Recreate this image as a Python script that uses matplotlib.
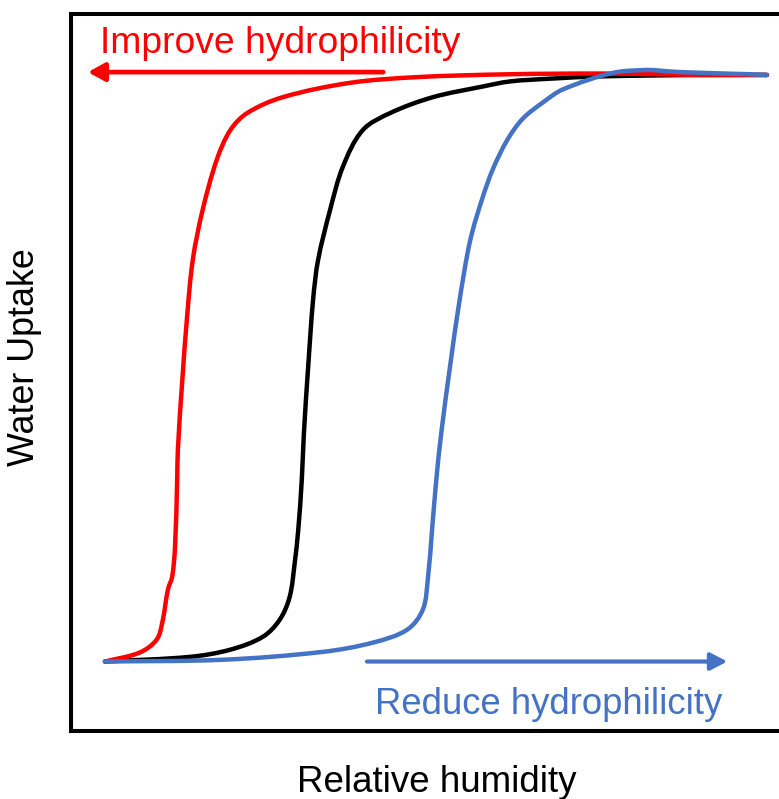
import matplotlib
matplotlib.use("Agg")
import matplotlib.pyplot as plt
from matplotlib.path import Path
from matplotlib.patches import PathPatch
import numpy as np

plt.rcParams['font.family'] = ['Liberation Sans', 'DejaVu Sans']

# Relative humidity (%) vs water uptake (% of axis height)
red_rh = [4.8, 9.7, 12.1, 12.9, 13.7, 14.3, 14.7, 15.0, 15.1, 15.7, 16.4, 17.2,
          18.6, 20.6, 22.5, 24.9, 29.9, 39.4, 48.9, 62.0, 74.7, 83.2, 88.8, 98.3]
red_up = [9.75, 11.0, 12.8, 15.2, 19.8, 21.6, 25.8, 35.1, 39.3, 48.6, 57.8, 65.7,
          72.7, 79.7, 83.8, 86.2, 88.4, 90.4, 91.2, 91.6, 91.7, 91.6, 91.5, 91.5]

black_rh = [4.8, 16.8, 22.5, 27.1, 29.5, 30.9, 31.6, 32.1, 32.6, 32.9, 33.5, 34.2,
            34.9, 36.6, 38.4, 41.2, 45.1, 51.1, 58.2, 62.0, 68.0, 74.7, 88.8, 98.3]
black_up = [9.75, 10.4, 11.4, 13.2, 15.6, 18.8, 23.5, 28.1, 35.1, 41.6, 50.8, 60.2,
            65.7, 72.7, 78.7, 83.8, 86.2, 88.4, 89.9, 90.6, 91.0, 91.3, 91.5, 91.5]

blue_rh = [4.8, 21.5, 35.6, 42.7, 47.5, 49.7, 50.4, 51.0, 51.6, 52.3, 53.6, 54.9,
           56.4, 58.1, 59.6, 61.6, 63.8, 66.7, 69.5, 76.6, 81.4, 83.2, 86.0, 95.9, 98.3]
blue_up = [9.75, 10.0, 11.1, 12.4, 14.2, 17.0, 21.2, 28.1, 35.1, 41.6, 51.3, 60.2,
           68.5, 74.3, 78.4, 82.4, 85.4, 87.7, 89.5, 91.8, 92.2, 92.1, 91.9, 91.6, 91.5]

RED = '#FF0000'
BLUE = '#4472C4'

fig = plt.figure(figsize=(7.79, 7.99), dpi=100)
ax = fig.add_axes([0.0911, 0.0845, 0.9089, 0.898])
ax.set_xlim(0, 100)
ax.set_ylim(0, 100)


def smooth_line(ax, xs, ys, color, lw, z):
    """Smoothed line (like a spreadsheet 'smoothed line') through the given points,
    drawn as a cubic Bezier path in data coordinates."""
    p = np.column_stack([xs, ys]).astype(float)
    n = len(p)
    tang = np.zeros_like(p)
    for i in range(n):
        a = p[max(i - 1, 0)]
        b = p[min(i + 1, n - 1)]
        d = b - a
        tang[i] = d / (np.hypot(*d) + 1e-12)
    verts = [tuple(p[0])]
    codes = [Path.MOVETO]
    for i in range(n - 1):
        seg = np.hypot(*(p[i + 1] - p[i]))
        c1 = p[i] + tang[i] * seg / 3.0
        c2 = p[i + 1] - tang[i + 1] * seg / 3.0
        verts += [tuple(c1), tuple(c2), tuple(p[i + 1])]
        codes += [Path.CURVE4] * 3
    patch = PathPatch(Path(verts, codes), facecolor='none', edgecolor=color,
                      lw=lw, capstyle='round', joinstyle='round', zorder=z)
    ax.add_patch(patch)


lw = 3.2
smooth_line(ax, black_rh, black_up, 'black', lw, 2)
smooth_line(ax, red_rh, red_up, RED, lw, 2.5)
smooth_line(ax, blue_rh, blue_up, BLUE, lw, 3)

ax.set_xticks([])
ax.set_yticks([])
for s in ['left', 'top', 'bottom']:
    ax.spines[s].set_linewidth(2.9)
    ax.spines[s].set_color('black')
ax.spines['right'].set_visible(False)

# Arrows
ax.annotate('', xy=(2.4, 91.9), xytext=(44.1, 91.9),
            arrowprops=dict(arrowstyle='-|>,head_length=10,head_width=5.5', mutation_scale=1,
                            color=RED, lw=3.4, shrinkA=0, shrinkB=0))
ax.annotate('', xy=(92.7, 9.75), xytext=(41.8, 9.75),
            arrowprops=dict(arrowstyle='-|>,head_length=10,head_width=5.2', mutation_scale=1,
                            color=BLUE, lw=3.0, shrinkA=0, shrinkB=0))

ax.text(4.1, 94.6, 'Improve hydrophilicity', color=RED, fontsize=26.8,
        ha='left', va='baseline')
ax.text(42.9, 2.37, 'Reduce hydrophilicity', color=BLUE, fontsize=26.3,
        ha='left', va='baseline')

ax.set_xlabel('Relative humidity', fontsize=26.5, color='black')
ax.xaxis.set_label_coords(0.517, -0.047)
ax.set_ylabel('Water Uptake', fontsize=25.8, color='black')
ax.yaxis.set_label_coords(-0.041, 0.522)

fig.savefig('out.png', dpi=100)
